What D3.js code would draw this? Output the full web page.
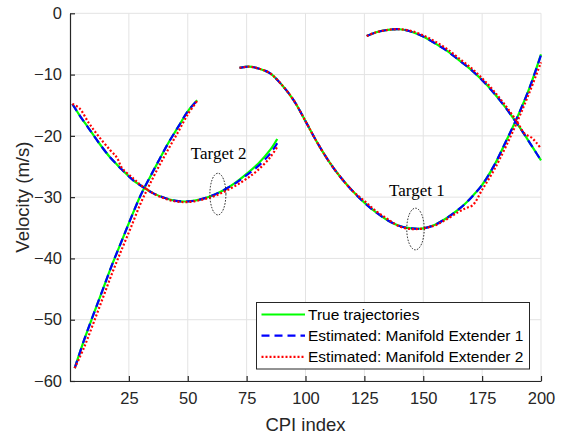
<!DOCTYPE html>
<html>
<head>
<meta charset="utf-8">
<script src="https://cdn.jsdelivr.net/npm/d3@7"></script>
<style>
  body { margin: 0; background: #fff; }
  svg { display: block; }
</style>
</head>
<body>
<svg id="chart"></svg>
<script>
// ---- data ----
// target 2, curve A (descending then rising)
var cpiA   = [1, 4, 8, 12, 17, 20, 22, 27, 30, 35, 40, 45, 50, 55, 60, 65, 70, 75, 80, 85, 88];
var trueA  = [-14.8, -16.6, -18.8, -21.0, -23.5, -24.7, -25.5, -27.3, -28.1, -29.3, -30.1, -30.6, -30.7, -30.4, -29.8, -28.9, -27.7, -26.2, -24.5, -22.3, -20.5];
var est1A  = [-14.8, -16.6, -18.8, -21.0, -23.5, -24.7, -25.5, -27.3, -28.1, -29.3, -30.1, -30.6, -30.7, -30.4, -29.8, -28.9, -27.8, -26.4, -24.9, -22.9, -21.2];
var est2A  = [-14.8, -15.5, -17.9, -20.0, -22.3, -23.6, -25.2, -27.0, -28.0, -29.3, -30.2, -30.7, -30.8, -30.5, -30.0, -29.2, -28.2, -27.0, -25.5, -23.5, -21.8];

// target 2, curve B (rising)
var cpiB   = [2, 6, 10, 14, 18, 22, 26, 30, 34, 38, 42, 46, 50, 54];
var trueB  = [-57.9, -53.3, -49.1, -45.0, -40.9, -37.1, -33.3, -29.7, -26.7, -23.8, -21.0, -18.5, -16.0, -14.2];
var est1B  = [-57.9, -53.3, -49.1, -45.0, -40.9, -37.1, -33.3, -29.7, -26.7, -23.8, -21.0, -18.5, -16.0, -14.2];
var est2B  = [-57.9, -54.5, -50.5, -46.4, -42.3, -38.5, -34.8, -31.0, -27.8, -24.8, -22.0, -19.3, -16.5, -14.3];

// target 1, curve C (big S)
var cpiC   = [72, 76, 80, 85, 90, 95, 100, 105, 110, 115, 120, 125, 130, 135, 140, 145, 150, 155, 160, 165, 168, 171, 175, 180, 185, 190, 195, 200];
var trueC  = [-8.9, -8.7, -9.0, -9.8, -11.7, -14.2, -17.6, -21.1, -24.2, -26.8, -29.0, -30.9, -32.5, -33.8, -34.7, -35.1, -35.1, -34.5, -33.4, -32.0, -31.0, -29.8, -28.0, -24.9, -21.0, -16.9, -12.3, -6.7];
var est1C  = [-8.9, -8.7, -9.0, -9.8, -11.7, -14.2, -17.6, -21.1, -24.2, -26.8, -29.0, -30.9, -32.5, -33.8, -34.7, -35.1, -35.1, -34.5, -33.4, -32.0, -31.0, -29.8, -28.0, -24.9, -21.0, -16.9, -12.3, -6.8];
var est2C  = [-8.9, -8.7, -9.0, -9.8, -11.7, -14.2, -17.6, -21.1, -24.2, -26.8, -29.0, -30.6, -32.3, -33.6, -34.8, -35.2, -35.1, -34.6, -33.6, -32.4, -31.8, -31.3, -28.8, -25.6, -21.8, -17.6, -13.0, -8.0];

// target 1, curve D (arch then falling)
var cpiD   = [126, 130, 135, 140, 145, 150, 155, 160, 165, 170, 175, 180, 185, 190, 193, 196, 198, 200];
var trueD  = [-3.7, -3.1, -2.7, -2.6, -3.0, -3.8, -4.9, -6.1, -7.6, -9.1, -10.9, -13.0, -15.4, -18.1, -19.8, -21.6, -22.8, -24.0];
var est1D  = [-3.7, -3.1, -2.7, -2.6, -3.0, -3.8, -4.9, -6.1, -7.6, -9.1, -10.9, -13.0, -15.4, -18.1, -19.8, -21.6, -22.8, -24.0];
var est2D  = [-3.7, -3.1, -2.7, -2.6, -2.9, -3.6, -4.6, -5.8, -7.3, -8.8, -10.6, -12.7, -15.1, -17.8, -19.6, -20.3, -21.1, -22.1];

var xTicks = [25, 50, 75, 100, 125, 150, 175, 200];
var yTicks = [0, -10, -20, -30, -40, -50, -60];

var seriesNames = ["True trajectories", "Estimated: Manifold Extender 1", "Estimated: Manifold Extender 2"];

// annotations: ellipse centre and radii in data units
var markLabels = ["Target 2", "Target 1"];
var markCx = [62.8, 146.7];
var markCy = [-29.5, -35.2];
var markRx = [3.4, 3.7];
var markRy = [3.4, 3.4];
var labelX = [63.1, 147.3];
var labelY = [-23.8, -29.8];

// ---- layout ----
var width = 564, height = 436;
var margin = {top: 13.3, left: 70, bottom: 55, right: 23};
var innerW = width - margin.left - margin.right;
var innerH = height - margin.top - margin.bottom;
var axisColor = "#262626";

var svg = d3.select("#chart")
    .attr("width", width)
    .attr("height", height)
    .style("font-family", "'Liberation Sans', Arial, sans-serif");

var g = svg.append("g")
    .attr("transform", "translate(" + margin.left + "," + margin.top + ")");

var x = d3.scaleLinear().domain([0, 200]).range([0, innerW]);
var y = d3.scaleLinear().domain([-60, 0]).range([innerH, 0]);

// grid
g.append("g").selectAll("line")
    .data(xTicks)
    .join("line")
    .attr("x1", function (d) { return x(d); })
    .attr("x2", function (d) { return x(d); })
    .attr("y1", 0)
    .attr("y2", innerH)
    .attr("stroke", "#e3e3e3")
    .attr("stroke-width", 1);

g.append("g").selectAll("line")
    .data(yTicks)
    .join("line")
    .attr("x1", 0)
    .attr("x2", innerW)
    .attr("y1", function (d) { return y(d); })
    .attr("y2", function (d) { return y(d); })
    .attr("stroke", "#e3e3e3")
    .attr("stroke-width", 1);

// axes (ticks pointing inward, like matlab)
var xAxis = g.append("g")
    .attr("transform", "translate(0," + innerH + ")")
    .call(d3.axisBottom(x).tickValues(xTicks).tickSizeInner(-5).tickSizeOuter(0).tickPadding(11));
var yAxis = g.append("g")
    .call(d3.axisLeft(y).tickValues(yTicks).tickSizeInner(-5).tickSizeOuter(0).tickPadding(8));

[xAxis, yAxis].forEach(function (a) {
    a.select(".domain").attr("stroke", axisColor).attr("stroke-width", 1.2);
    a.selectAll(".tick line").attr("stroke", axisColor).attr("stroke-width", 1.2);
    a.selectAll(".tick text")
        .attr("fill", axisColor)
        .style("font-size", "16.5px")
        .style("font-family", "'Liberation Sans', Arial, sans-serif");
});
xAxis.selectAll(".tick text").attr("dy", "0.71em");

// axis labels
svg.append("text")
    .attr("x", margin.left + x(100) + 0)
    .attr("y", 431)
    .attr("text-anchor", "middle")
    .attr("fill", axisColor)
    .style("font-size", "18.5px")
    .text("CPI index");

svg.append("text")
    .attr("transform", "translate(29," + (margin.top + innerH / 2) + ") rotate(-90)")
    .attr("text-anchor", "middle")
    .attr("fill", axisColor)
    .style("font-size", "18.5px")
    .text("Velocity (m/s)");

// curves
var line = d3.line()
    .x(function (d) { return x(d[0]); })
    .y(function (d) { return y(d[1]); })
    .curve(d3.curveCatmullRom);

function pairs(cpi, vals) {
    return cpi.map(function (c, i) { return [c, vals[i]]; });
}

var styles = [
    {color: "#00ff00", dash: null, width: 2.2},
    {color: "#0000ff", dash: "8,5", width: 2.2},
    {color: "#ff0000", dash: "2,2", width: 2.2}
];

var curveSets = [
    [pairs(cpiA, trueA), pairs(cpiB, trueB), pairs(cpiC, trueC), pairs(cpiD, trueD)],
    [pairs(cpiA, est1A), pairs(cpiB, est1B), pairs(cpiC, est1C), pairs(cpiD, est1D)],
    [pairs(cpiA, est2A), pairs(cpiB, est2B), pairs(cpiC, est2C), pairs(cpiD, est2D)]
];

curveSets.forEach(function (set, k) {
    g.append("g").selectAll("path")
        .data(set)
        .join("path")
        .attr("d", line)
        .attr("fill", "none")
        .attr("stroke", styles[k].color)
        .attr("stroke-width", styles[k].width)
        .attr("stroke-dasharray", styles[k].dash);
});

// ellipses and target labels
g.append("g").selectAll("ellipse")
    .data(markCx)
    .join("ellipse")
    .attr("cx", function (d) { return x(d); })
    .attr("cy", function (d, i) { return y(markCy[i]); })
    .attr("rx", function (d, i) { return x(markRx[i]) - x(0); })
    .attr("ry", function (d, i) { return y(0) - y(markRy[i]); })
    .attr("fill", "none")
    .attr("stroke", "#000")
    .attr("stroke-width", 0.9)
    .attr("stroke-dasharray", "1.5,1.5");

g.append("g").selectAll("text")
    .data(markLabels)
    .join("text")
    .attr("x", function (d, i) { return x(labelX[i]); })
    .attr("y", function (d, i) { return y(labelY[i]); })
    .attr("text-anchor", "middle")
    .style("font-family", "'Liberation Serif', 'Times New Roman', serif")
    .style("font-size", "17px")
    .attr("fill", "#000")
    .text(function (d) { return d; });

// legend
var legend = svg.append("g").attr("transform", "translate(256.5,302.5)");
legend.append("rect")
    .attr("width", 273)
    .attr("height", 66.5)
    .attr("fill", "#fff")
    .attr("stroke", axisColor)
    .attr("stroke-width", 1);

var rows = legend.selectAll("g.row")
    .data(seriesNames)
    .join("g")
    .attr("class", "row")
    .attr("transform", function (d, i) { return "translate(0," + (12 + i * 21.2) + ")"; });

rows.append("line")
    .attr("x1", 5)
    .attr("x2", 48.5)
    .attr("stroke", function (d, i) { return styles[i].color; })
    .attr("stroke-width", 2.2)
    .attr("stroke-dasharray", function (d, i) { return styles[i].dash; });

rows.append("text")
    .attr("x", 51.5)
    .attr("dy", "0.35em")
    .attr("fill", "#000")
    .style("font-size", "15.5px")
    .text(function (d) { return d; });
</script>
</body>
</html>
